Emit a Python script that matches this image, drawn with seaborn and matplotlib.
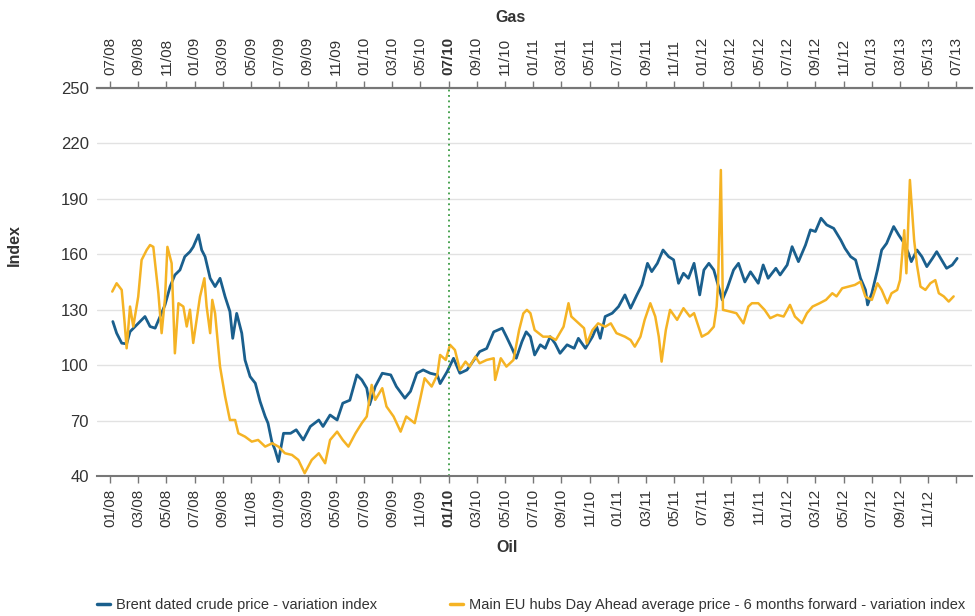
import matplotlib
matplotlib.use("Agg")
import matplotlib.pyplot as plt
import seaborn as sns
from matplotlib import font_manager

# months counted from 01/2008 on the oil (bottom) axis; gas runs 6 months ahead
oil_month = [
    0.2, 0.47, 0.83, 1.18, 1.42, 1.9, 2.48, 2.84, 3.2, 3.55, 3.9, 4.26, 4.6, 4.96,
    5.3, 5.67, 5.9, 6.27, 6.5, 6.74, 7.1, 7.45, 7.8, 8.16, 8.5, 8.7, 8.98, 9.34,
    9.57, 9.93, 10.3, 10.64, 11.0, 11.2, 11.47, 11.7, 11.94, 12.3, 12.8, 13.2,
    13.7, 14.2, 14.8, 15.1, 15.6, 16.1, 16.5, 17.0, 17.5, 17.85, 18.2, 18.4, 18.8,
    19.3, 19.9, 20.3, 20.9, 21.3, 21.75, 22.2, 22.7, 23.2, 23.4, 23.9, 24.35, 24.8,
    25.3, 25.8, 26.2, 26.7, 27.2, 27.8, 28.1, 28.5, 28.8, 29.2, 29.5,
    29.8, 30.1, 30.5, 30.85, 31.2, 31.55, 31.9, 32.4, 32.9, 33.2, 33.7, 34.2, 34.5,
    34.75, 35.1, 35.6, 36.05, 36.5, 36.9, 37.35, 37.7, 38.1, 38.4, 38.8, 39.2, 39.6,
    39.95, 40.3, 40.65, 41.0, 41.4, 41.8, 42.1, 42.45, 42.8, 43.4, 43.75, 44.2,
    44.55, 45.0, 45.4, 45.95, 46.3, 46.65, 47.2, 47.5, 48.0, 48.35, 48.8, 49.3,
    49.65, 50.0, 50.4, 50.8, 51.3, 51.8, 52.1, 52.5, 52.85, 53.2, 53.55, 53.7, 54.0,
    54.4, 54.7, 55.05, 55.55, 55.9, 56.3, 56.6, 56.8, 57.2, 57.55, 57.9, 58.3, 58.6,
    58.95, 59.3, 59.7, 60.05,
]
oil_index = [
    123.6, 117.3, 111.9, 111.5, 118.1, 121.8, 126.3, 120.9, 120, 126.3, 132.6, 142.5,
    148.8, 151.5, 158.7, 161.4, 164, 170.5, 162.3, 158.7, 147, 142.5, 147, 137, 129,
    114.5, 128, 117.3, 102.8, 93.8, 90.2, 80.3, 72.2, 68.6, 58.6, 54.1, 47.8, 63.1,
    63.1, 65, 59.5, 66.8, 70.3, 66.8, 73, 70.3, 79.4, 81, 94.7, 92, 87.5, 78.5, 88.4,
    95.6, 94.7, 88.4, 82.1, 85.8, 95.6, 97.4, 95.6, 94.7, 90, 96.5, 103.7, 95.6,
    97.4, 102.8, 107.3, 109, 118, 120, 115.4, 109, 103.7, 112.7, 118,
    115.4, 105.5, 111, 109.1, 115.4, 111.7, 106.4, 111, 109.1, 114.5, 109.1, 115.4,
    120.8, 114.5, 126.3, 128.1, 131.7, 138, 130.8, 138, 143.4, 155.1, 150.6, 155.1,
    162.3, 158.7, 157, 144.3, 149.7, 147, 155.1, 138, 151.5, 155.1, 151.5, 135.3,
    141.6, 151.5, 155.1, 145, 150.5, 144.3, 154.2, 147, 152.4, 148.8, 154.2, 164.1,
    156, 165, 173.2, 172.3, 179.5, 175.9, 174, 167.7, 163.2, 158.7, 156.9, 147,
    140.7, 132.6, 138.9, 151.5, 162.3, 165.9, 175, 170.5, 165.9, 160.5, 156, 162.3,
    158.7, 153.3, 157.8, 161.4, 156.9, 152.4, 154.2, 157.8,
]

gas_month = [
    0.16, 0.47, 0.83, 1.02, 1.18, 1.42, 1.65, 2.0, 2.24, 2.6, 2.84, 3.07, 3.43, 3.66,
    3.9, 4.07, 4.37, 4.6, 4.85, 5.2, 5.44, 5.67, 5.9, 6.38, 6.69, 6.85, 7.1, 7.25,
    7.45, 7.8, 8.16, 8.5, 8.87, 9.1, 9.57, 10.05, 10.5, 11.0, 11.5, 11.94, 12.4,
    12.9, 13.35, 13.8, 14.3, 14.8, 15.25, 15.6, 16.1, 16.5, 16.9, 17.4, 17.85, 18.2,
    18.55, 18.8, 19.3, 19.6, 20.1, 20.6, 21.0, 21.6, 22.0, 22.3, 22.8, 23.2, 23.4,
    23.8, 24.1, 24.45, 24.8, 25.2, 25.5, 25.9, 26.2, 26.7, 27.2, 27.3, 27.7, 28.1,
    28.6, 29.0, 29.3, 29.55,
    29.8, 30.1, 30.7, 31.2, 31.6, 32.15, 32.5, 32.7, 33.1, 33.6, 33.8, 34.2, 34.6,
    35.1, 35.5, 35.9, 36.5, 36.9, 37.2, 37.6, 37.9, 38.3, 38.65, 38.9, 39.1, 39.4,
    39.7, 40.2, 40.65, 41.1, 41.4, 41.95, 42.4, 42.8, 43.0, 43.1, 43.3, 43.45, 43.95,
    44.4, 44.9, 45.25, 45.5, 45.95, 46.4, 46.8, 47.3, 47.75, 48.2, 48.55, 49.05,
    49.4, 49.8, 50.3, 50.75, 51.2, 51.5, 51.9, 52.35, 52.8, 53.2, 53.55, 54.0, 54.4,
    54.7, 55.1, 55.4, 55.8, 56.0, 56.3, 56.45, 56.7, 57.0, 57.2, 57.45, 57.8, 58.15,
    58.5, 58.75, 59.1, 59.45, 59.8,
]
gas_index = [
    139.8, 144.3, 140.7, 124.5, 109.1, 131.7, 120.9, 137, 156.9, 162.3, 165, 164,
    138.9, 117.3, 136.2, 164, 155.1, 106.4, 133.5, 131.7, 120.9, 130, 112, 137, 147,
    131.7, 117.3, 135.3, 128, 99.2, 83, 70.3, 70.3, 63.1, 61.3, 58.6, 59.5, 55.9,
    57.7, 55.9, 52.3, 51.4, 48.7, 41.5, 48.7, 52.3, 46.9, 59.5, 64, 59.5, 55.9, 63.1,
    68.6, 72.2, 89.3, 81.2, 87.5, 77.6, 72.2, 64, 72.2, 68.6, 82.1, 92.9, 88.4, 94.7,
    105.5, 102.8, 111, 108.2, 97.4, 101.9, 99.2, 104.6, 101, 102.8, 103.7, 92, 103.7,
    99.2, 102.8, 119, 128, 129.9,
    128.1, 119, 115.4, 115.4, 113.6, 120.8, 133.5, 126.3, 123.5, 120, 111.7, 119,
    122.6, 120.8, 122.6, 117.3, 115.4, 113.6, 110, 115.4, 124.5, 133.5, 126.3, 115.4,
    101.9, 119, 129.9, 124.5, 130.8, 126.3, 128.1, 115.4, 117.3, 120.8, 131.7, 144.3,
    205.6, 129.9, 129, 128.1, 122.6, 131.7, 133.5, 133.5, 129.9, 125.4, 127.2, 126.3,
    132.6, 126.3, 122.7, 128.1, 131.7, 133.5, 135.3, 138.9, 137.2, 141.6, 142.5,
    143.4, 145.2, 137, 135.3, 144.3, 140.7, 133.5, 138.9, 140.7, 146, 173, 149.7,
    200.2, 167.7, 154.2, 142.5, 140.7, 144.3, 146, 138.9, 137.2, 134.4, 137.2,
]

tick_month = list(range(0, 61, 2))
oil_labels = [
    "01/08", "03/08", "05/08", "07/08", "09/08", "11/08",
    "01/09", "03/09", "05/09", "07/09", "09/09", "11/09",
    "01/10", "03/10", "05/10", "07/10", "09/10", "11/10",
    "01/11", "03/11", "05/11", "07/11", "09/11", "11/11",
    "01/12", "03/12", "05/12", "07/12", "09/12", "11/12", "",
]
gas_labels = [
    "07/08", "09/08", "11/08", "01/09", "03/09", "05/09",
    "07/09", "09/09", "11/09", "01/10", "03/10", "05/10",
    "07/10", "09/10", "11/10", "01/11", "03/11", "05/11",
    "07/11", "09/11", "11/11", "01/12", "03/12", "05/12",
    "07/12", "09/12", "11/12", "01/13", "03/13", "05/13", "07/13",
]
y_ticks = [40, 70, 100, 130, 160, 190, 220, 250]
marker_month = 24  # 01/10 oil = 07/10 gas

BLUE = "#1a5f8d"
GOLD = "#f5b324"
TXT = "#333333"

sns.set_theme(style="white")
names = {f.name for f in font_manager.fontManager.ttflist}
main_font = "Liberation Sans Narrow" if "Liberation Sans Narrow" in names else "Liberation Sans"
plt.rcParams["font.family"] = [main_font, "DejaVu Sans"]

fig = plt.figure(figsize=(9.75, 6.16), dpi=100)
ax = fig.add_axes([0.0995, 0.2273, 0.8974, 0.6299])

sns.lineplot(x=oil_month, y=oil_index, ax=ax, color=BLUE, linewidth=2.0,
             estimator=None, errorbar=None, sort=False,
             label="Brent dated crude price - variation index")
sns.lineplot(x=gas_month, y=gas_index, ax=ax, color=GOLD, linewidth=1.8,
             estimator=None, errorbar=None, sort=False,
             label="Main EU hubs Day Ahead average price - 6 months forward - variation index")

ax.axvline(marker_month, color="#3c9c44", linestyle=(0, (1, 2)), linewidth=1.3)

ax.set_xlim(-0.92, 61.1)
ax.set_ylim(40, 250)
ax.set_yticks(y_ticks)
ax.yaxis.grid(True, color="#e2e2e2", linewidth=1)
ax.xaxis.grid(False)
ax.tick_params(axis="y", length=0, pad=6, labelsize=12, labelcolor=TXT)

ax.set_xticks(tick_month)
ax.set_xticklabels(oil_labels, rotation=90)
ax.tick_params(axis="x", direction="out", length=5, width=1, color="#777777",
               pad=4, labelsize=11, labelcolor=TXT, bottom=True)
ax.get_xticklabels()[12].set_fontweight("bold")

top = ax.secondary_xaxis("top")
top.set_xticks(tick_month)
top.set_xticklabels(gas_labels, rotation=90)
top.tick_params(axis="x", direction="out", length=5, width=1, color="#777777",
                pad=4, labelsize=11, labelcolor=TXT)
top.get_xticklabels()[12].set_fontweight("bold")
top.spines["top"].set_color("#777777")
top.spines["top"].set_linewidth(1.5)

for side in ["left", "right"]:
    ax.spines[side].set_visible(False)
for side in ["top", "bottom"]:
    ax.spines[side].set_color("#777777")
    ax.spines[side].set_linewidth(1.5)

ax.set_ylabel("Index", fontweight="bold", fontsize=11.5, color=TXT)
ax.yaxis.set_label_coords(-0.086, 0.595)
ax.set_xlabel("")
fig.text(507 / 975, 1 - 548 / 616, "Oil", ha="center", va="center",
         fontweight="bold", fontsize=11.5, color=TXT)
fig.text(510 / 975, 1 - 18 / 616, "Gas", ha="center", va="center",
         fontweight="bold", fontsize=11.5, color=TXT)

ax.legend(loc="center left", bbox_to_anchor=(0.0, -0.333), ncol=2,
          frameon=False, fontsize=10.5, handlelength=0.9, handletextpad=0.4,
          columnspacing=5.0, borderpad=0, borderaxespad=0, labelcolor=TXT)
for line in ax.get_legend().get_lines():
    line.set_linewidth(2.5)

fig.savefig("out.png", dpi=100)
